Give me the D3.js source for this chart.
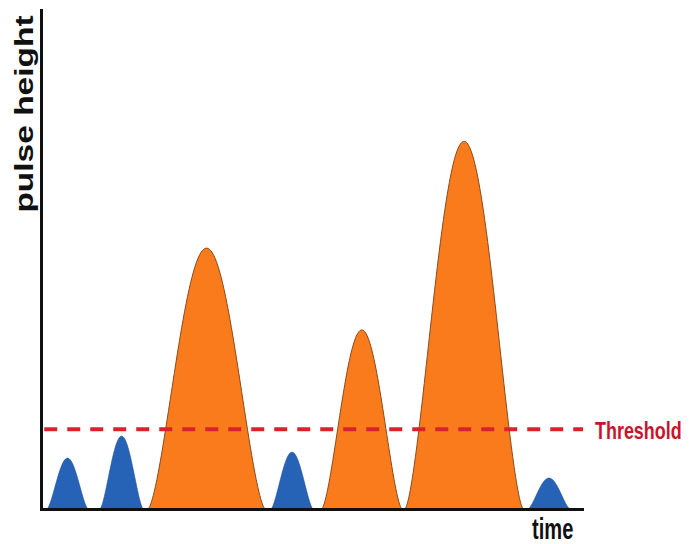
<!DOCTYPE html>
<html>
<head>
<meta charset="utf-8">
<script src="https://cdn.jsdelivr.net/npm/d3@7"></script>
<style>
  html, body { margin: 0; padding: 0; background: #fff; }
  svg { display: block; }
</style>
</head>
<body>
<svg id="chart" width="691" height="544"></svg>
<script>
// ---- data (time units 0–100, pulse height units 0–100) ----
const pulseNames   = ["p1", "p2", "p3", "p4", "p5", "p6", "p7"];
const pulseStart   = [1.1, 10.9, 19.8, 42.5, 51.9, 67.3, 90.0];
const pulseEnd     = [8.7, 18.9, 41.4, 50.3, 66.7, 89.1, 97.8];
const pulseHeight  = [10.2, 14.6, 52.3, 11.4, 35.9, 73.7, 6.2];
const thresholdValue = 16.0;
const xLabel = "time";
const yLabel = "pulse height";
const thresholdLabel = "Threshold";

const svg = d3.select("#chart");
const x = d3.scaleLinear().domain([0, 100]).range([41, 582]);
const y = d3.scaleLinear().domain([0, 100]).range([509, 10]);

const pulses = pulseNames.map((n, i) => ({
  name: n, start: pulseStart[i], end: pulseEnd[i], h: pulseHeight[i]
}));

const profile = d3.range(0, 1.0001, 1 / 80);
const area = d3.area()
  .x(d => x(d[0]))
  .y0(y(0))
  .y1(d => y(d[1]))
  .curve(d3.curveBasis);

svg.append("g").selectAll("path")
  .data(pulses)
  .join("path")
  .attr("d", p => area(profile.map(t => [p.start + t * (p.end - p.start),
                                         p.h * Math.pow(Math.sin(Math.PI * t), 1.5)])))
  .attr("fill", p => p.h > thresholdValue ? "#fa7b1c" : "#2663b6")
  .attr("stroke", p => p.h > thresholdValue ? "#8c4a1c" : "#1f4f96")
  .attr("stroke-width", p => p.h > thresholdValue ? 1 : 0.6);

// threshold line
svg.append("line")
  .attr("x1", x(0.6)).attr("x2", x(100.2))
  .attr("y1", y(thresholdValue)).attr("y2", y(thresholdValue))
  .attr("stroke", "#d8232e")
  .attr("stroke-width", 4)
  .attr("stroke-dasharray", "13,10");

// axes
const gx = svg.append("g").attr("transform", `translate(0,${y(0)})`)
  .call(d3.axisBottom(x).ticks(0).tickSizeOuter(0));
const gy = svg.append("g").attr("transform", `translate(${x(0)},0)`)
  .call(d3.axisLeft(y).ticks(0).tickSizeOuter(0));
[gx, gy].forEach(g => g.select(".domain")
  .attr("stroke", "#111").attr("stroke-width", 3).attr("stroke-linecap", "square"));

// labels
svg.append("text")
  .attr("transform", "translate(595,439) scale(0.78,1)")
  .attr("font-family", "'Liberation Sans', Arial, sans-serif")
  .attr("font-weight", "bold").attr("font-size", 23)
  .attr("fill", "#c8142c")
  .text(thresholdLabel);

svg.append("text")
  .attr("transform", "translate(532,539) scale(0.67,1)")
  .attr("font-family", "'Liberation Sans', Arial, sans-serif")
  .attr("font-weight", "bold").attr("font-size", 30)
  .attr("fill", "#111")
  .text(xLabel);

svg.append("text")
  .attr("transform", "translate(33,114) rotate(-90) scale(1.34,1)")
  .attr("text-anchor", "middle")
  .attr("font-family", "'Liberation Sans', Arial, sans-serif")
  .attr("font-weight", "bold").attr("font-size", 25)
  .attr("fill", "#111")
  .text(yLabel);
</script>
</body>
</html>
